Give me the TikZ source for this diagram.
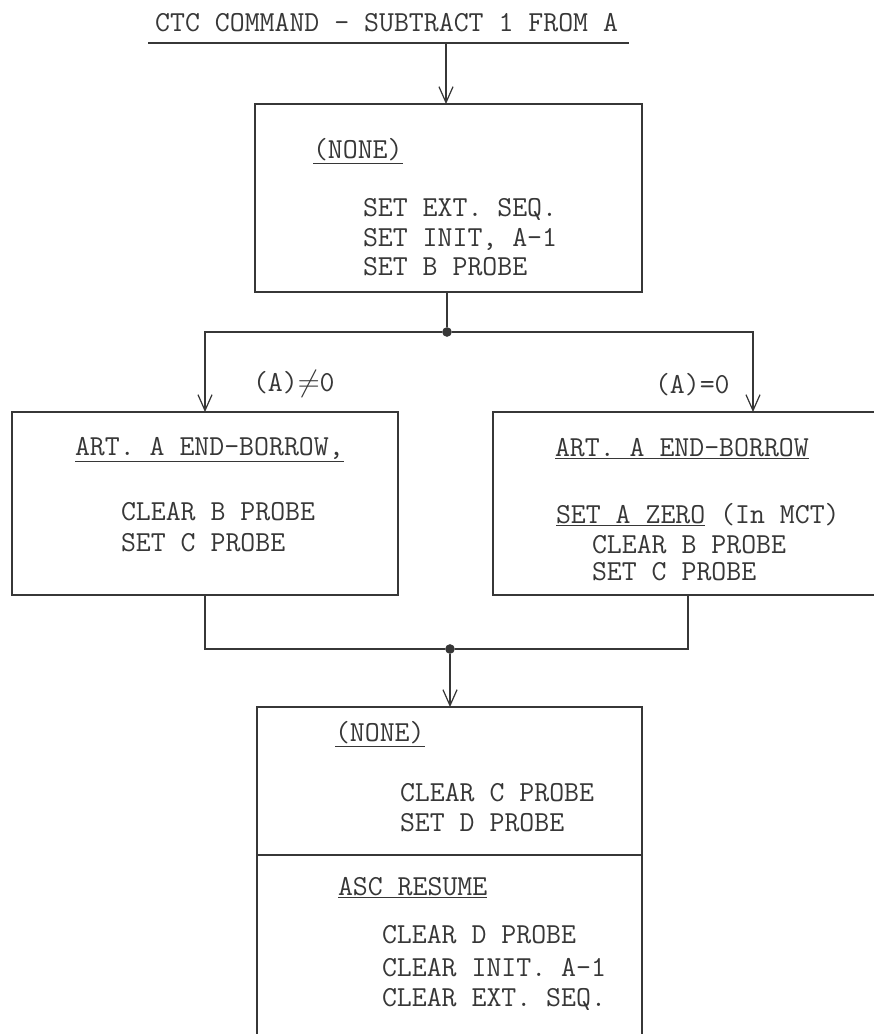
\documentclass[tikz,border=0pt]{standalone}
\usepackage{tikz}
\usetikzlibrary{arrows.meta, positioning}
\definecolor{inkgray}{RGB}{55,55,55}

\begin{document}
\begin{tikzpicture}[x=0.02cm, y=-0.02cm, color=inkgray, line width=0.7pt,
    every node/.style={inner sep=0pt, outer sep=0pt},
    txt/.style={anchor=base west, font=\ttfamily\fontsize{16.5}{20}\selectfont},
    box/.style 2 args={draw, minimum width=#1, minimum height=#2},
    arr/.style={-{Straight Barb[length=9pt,width=8pt]}},
    joint/.style={circle, fill, minimum size=5.5pt}]
  \useasboundingbox (0,0) rectangle (873,1034);

  % title and entry
  \node[txt, anchor=base east] (title) at (618,32) {CTC COMMAND - SUBTRACT 1 FROM A};
  \coordinate (tl) at (446,43);
  \draw ([xshift=-4pt]title.west |- tl) -- ([xshift=6pt]title.east |- tl);

  % boxes
  \node[box={7.74cm}{3.76cm}] (top) at (448.5,198) {};
  \node[box={7.72cm}{3.66cm}] (left) at (205,503.5) {};
  \node[box={7.8cm}{3.66cm}] (right) at (688,503.5) {};
  \node[box={7.7cm}{7.86cm}] (bottom) at (449.5,903.5) {};
  \coordinate (dv) at (0,855);
  \draw (bottom.west |- dv) -- (bottom.east |- dv);

  \draw[arr] (tl) -- (tl |- top.north);

  % top box
  \node[txt] (n1) at (313,158) {\underline{(NONE)}};
  \node[txt] (s1) at (363,216) {SET EXT. SEQ.};
  \node[txt] (s2) at (363,246) {SET INIT, A-1};
  \node[txt] (s3) at (363,275) {SET B PROBE};

  % branch
  \node[joint] (fork) at (447,332) {};
  \coordinate (rin) at (753,332);
  \draw (top.south -| fork) -- (fork);
  \draw[arr] (fork) -| (left.north);
  \draw[arr] (fork) -- (rin) -- (rin |- right.north);
  \node[txt] (ne) at (253,391) {(A)$\neq$0};
  \node[txt] (eq) at (655,393) {(A)=0};

  % left box
  \node[txt] (l1) at (75,455) {\underline{ART. A END-BORROW,}};
  \node[txt] (l2) at (121,520) {CLEAR B PROBE};
  \node[txt] (l3) at (121,551) {SET C PROBE};

  % right box
  \node[txt] (r1) at (555,456) {\underline{ART. A END-BORROW}};
  \node[txt] (r2) at (556,523) {\underline{SET A ZERO} (In MCT)};
  \node[txt] (r3) at (592,553) {CLEAR B PROBE};
  \node[txt] (r4) at (592,580) {SET C PROBE};

  % merge
  \node[joint] (merge) at (450,649) {};
  \draw (left.south) |- (merge);
  \draw (right.south) |- (merge);
  \draw[arr] (merge) -- (merge |- bottom.north);

  % bottom box
  \node[txt] (b1) at (335,741) {\underline{(NONE)}};
  \node[txt] (b2) at (400,801) {CLEAR C PROBE};
  \node[txt] (b3) at (400,831) {SET D PROBE};
  \node[txt] (b4) at (338,895) {\underline{ASC RESUME}};
  \node[txt] (b5) at (382,943) {CLEAR D PROBE};
  \node[txt] (b6) at (382,976) {CLEAR INIT. A-1};
  \node[txt] (b7) at (382,1006) {CLEAR EXT. SEQ.};
\end{tikzpicture}
\end{document}
